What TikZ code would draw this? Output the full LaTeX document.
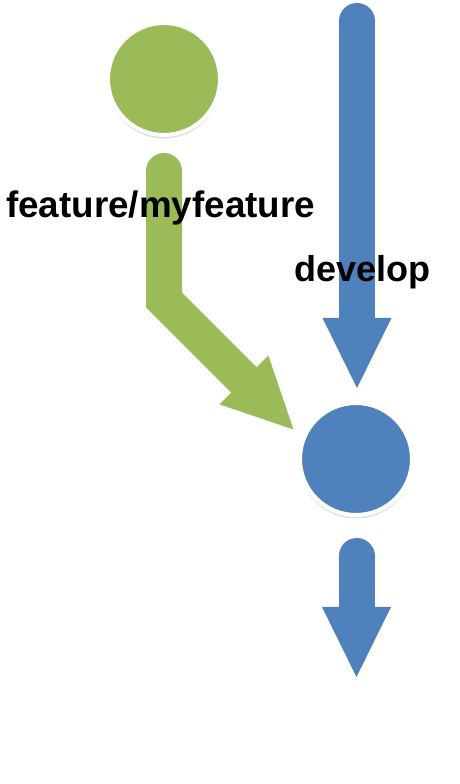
\documentclass[tikz,border=0pt]{standalone}
\usepackage{fontspec}
\setmainfont{Liberation Sans}
\usetikzlibrary{shadows}
\definecolor{gitgreen}{RGB}{155,187,89}
\definecolor{gitblue}{RGB}{79,129,189}
\tikzset{
  commit/.style={circle, fill=#1, draw=white, line width=4pt, minimum size=112pt, inner sep=0pt,
    drop shadow={opacity=0.25, shadow xshift=0pt, shadow yshift=-3pt, shadow scale=1.01, fill=black!50}},
  shaft/.style={draw=#1, line width=36pt, line cap=round, line join=miter},
  head/.style={fill=#1},
  label/.style={anchor=base west, inner sep=0pt, font=\fontsize{#1}{40}\selectfont\bfseries}
}
\begin{document}
\begin{tikzpicture}[x=1pt,y=1pt]
\useasboundingbox (0,0) rectangle (460,784);
% coordinates
\coordinate (gtop) at (164,613);
\coordinate (gbend) at (164,484);
\coordinate (gbase) at (244,404);
\coordinate (gtip) at (293.5,354.5);
\coordinate (gl) at (219.6,379.6);
\coordinate (gr) at (268.4,428.4);
\coordinate (btop) at (357,763);
\coordinate (bbase) at (357,466);
\coordinate (btip) at (357,396);
\coordinate (ctop) at (356.5,228);
\coordinate (cbase) at (356.5,177);
\coordinate (ctip) at (356.5,107);
% feature commit and merge arrow
\node[commit=gitgreen] (feat) at (164,705) {};
\draw[shaft=gitgreen] (gtop) -- (gbend) -- (gbase);
\fill[head=gitgreen] (gl) -- (gtip) -- (gr) -- cycle;
% develop arrow
\draw[shaft=gitblue] (btop) -- (bbase);
\fill[head=gitblue] ([xshift=-34.5pt]bbase) -- (btip) -- ([xshift=34.5pt]bbase) -- cycle;
% develop commit
\node[commit=gitblue] (dev) at (356,325) {};
% continuing arrow
\draw[shaft=gitblue] (ctop) -- (cbase);
\fill[head=gitblue] ([xshift=-34.5pt]cbase) -- (ctip) -- ([xshift=34.5pt]cbase) -- cycle;
% labels
\node[label=36.8] (lfeat) at (6,566) {feature/myfeature};
\node[label=36] (ldev) at (294,502) {develop};
\end{tikzpicture}
\end{document}
